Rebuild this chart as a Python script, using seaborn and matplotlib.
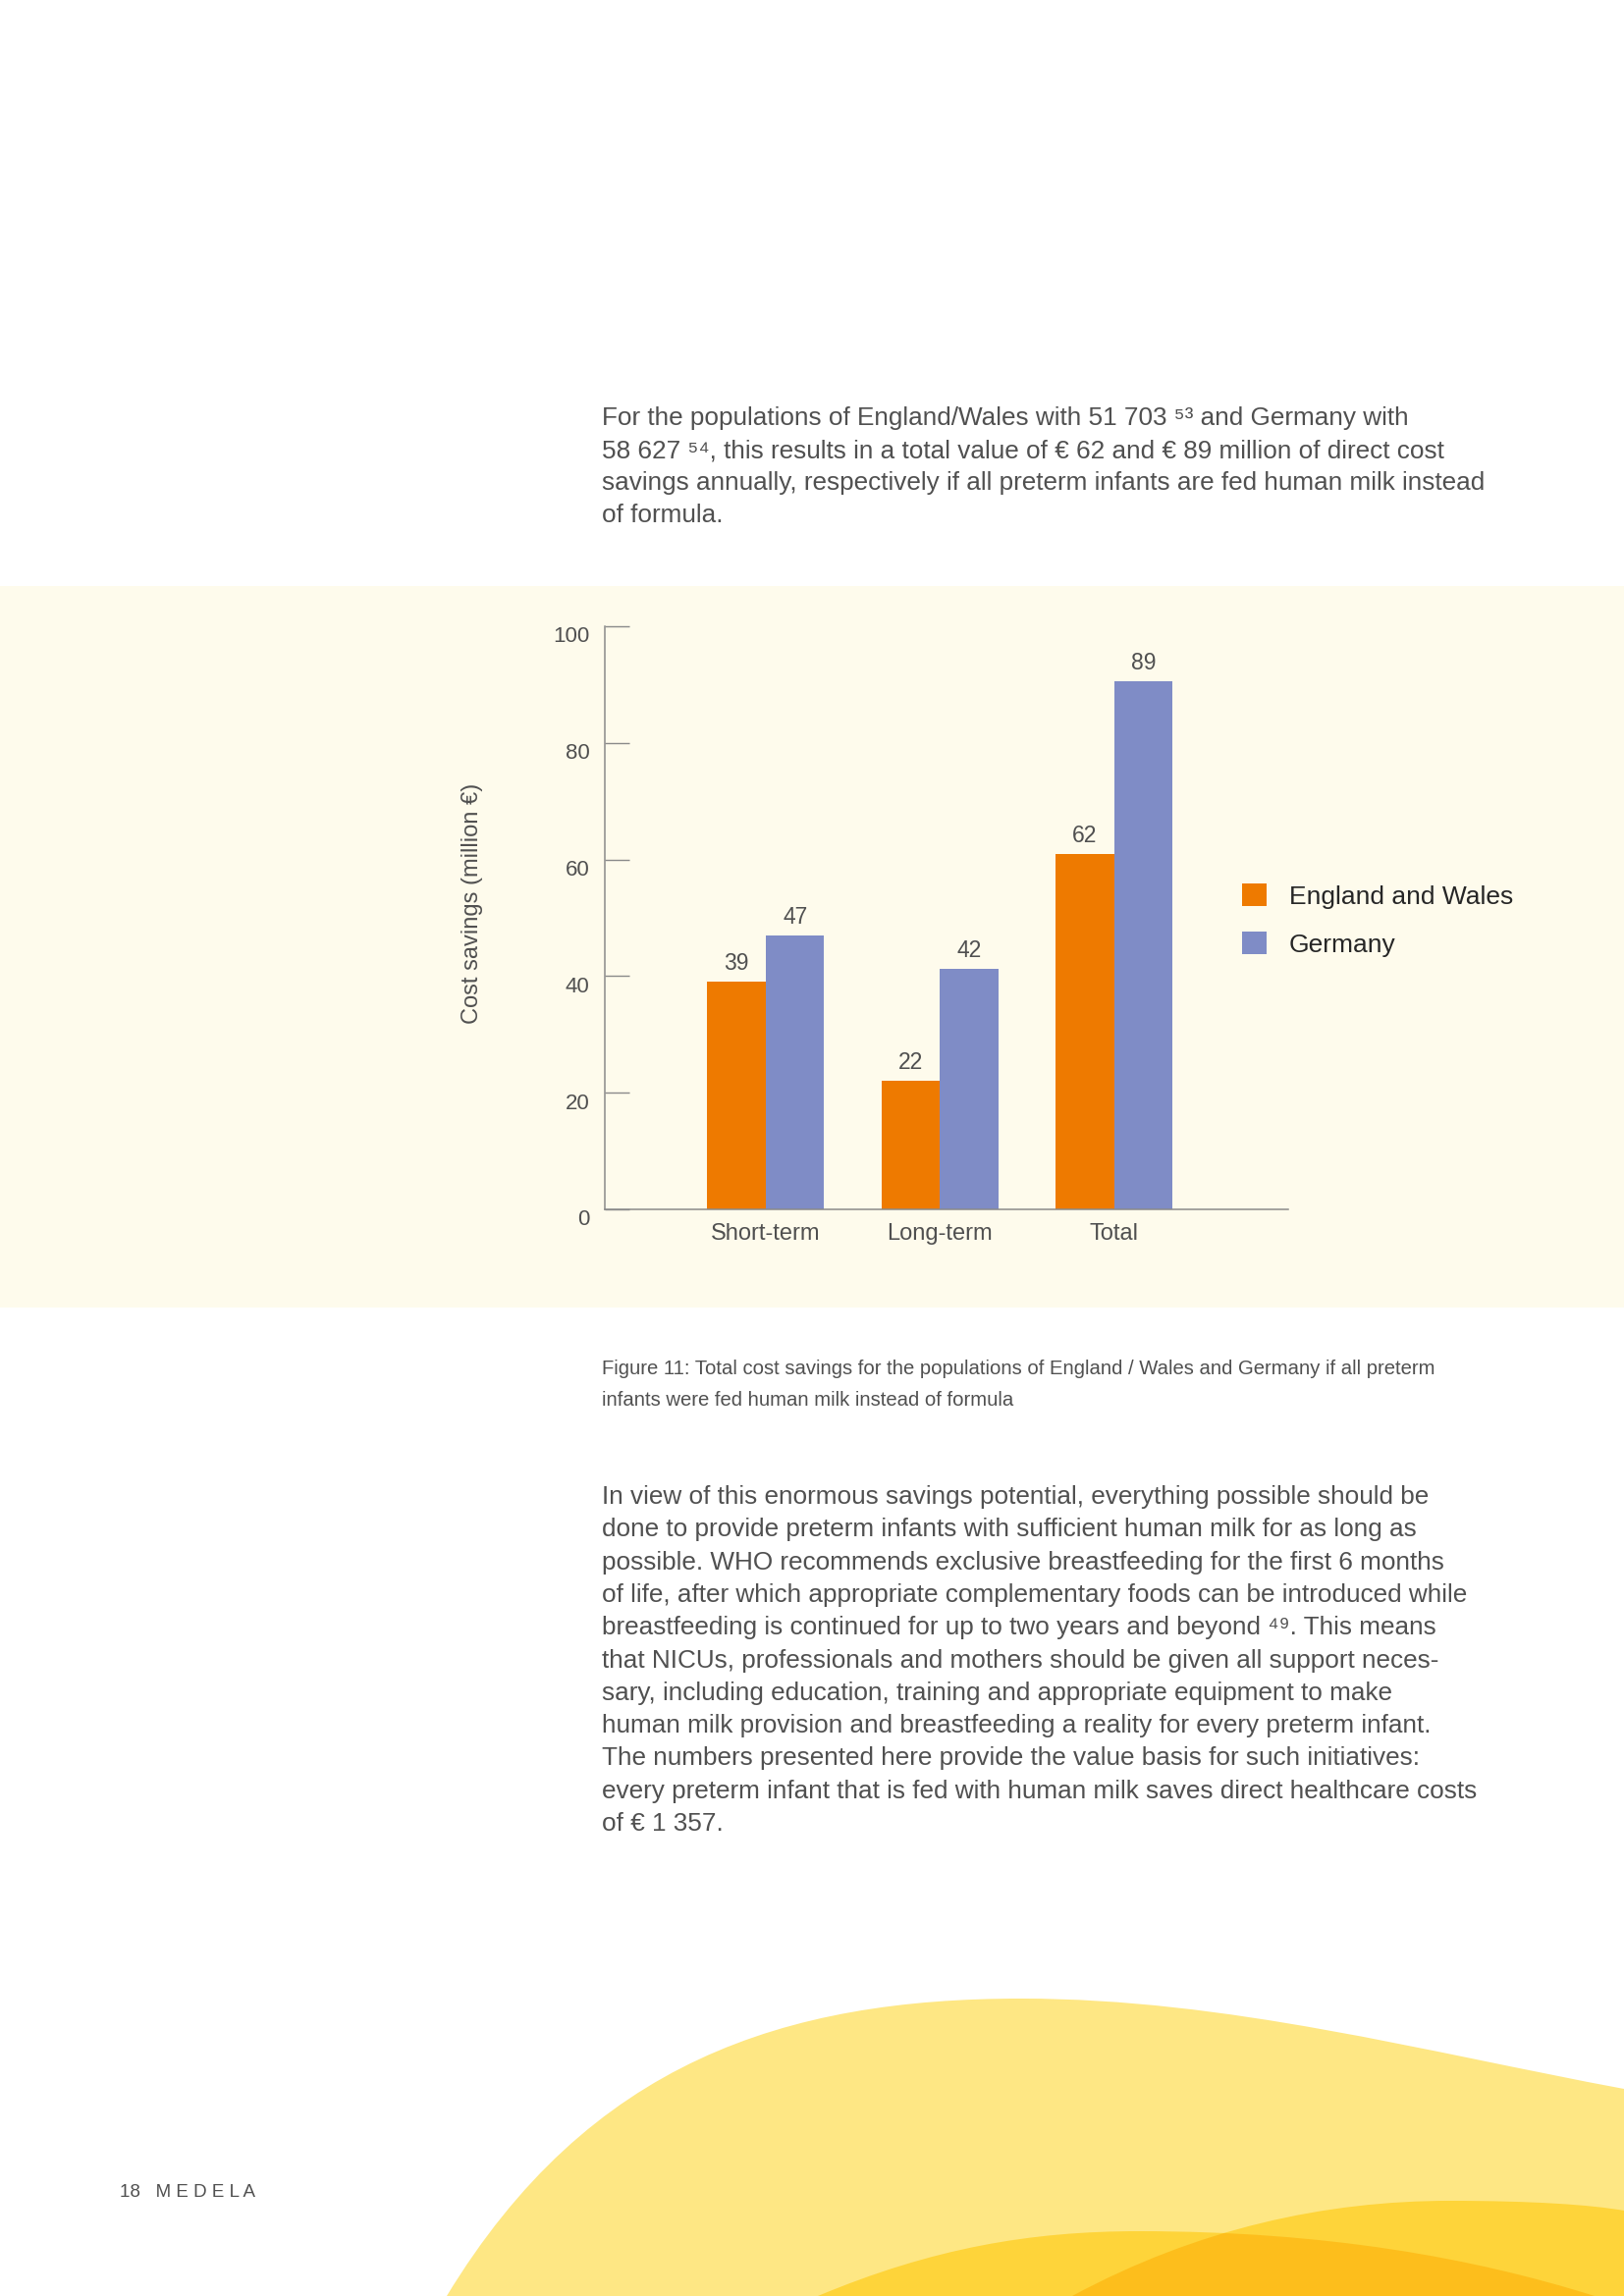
import numpy as np
import pandas as pd
import matplotlib
matplotlib.use("Agg")
import matplotlib.pyplot as plt
import matplotlib.transforms as mtransforms
from matplotlib.patches import Rectangle, PathPatch, Patch
from matplotlib.path import Path
import seaborn as sns

# data
categories = ["Short-term", "Long-term", "Total"]
countries = ["England and Wales", "Germany"]
england_wales = [39, 22, 61]
germany = [47, 41.2, 90.5]
england_labels = ["39", "22", "62"]
germany_labels = ["47", "42", "89"]
y_ticks = [0, 20, 40, 60, 80, 100]

para_top = [
    "For the populations of England/Wales with 51 703 \u2075\u00b3 and Germany with",
    "58 627 \u2075\u2074, this results in a total value of \u20ac 62 and \u20ac 89 million of direct cost",
    "savings annually, respectively if all preterm infants are fed human milk instead",
    "of formula.",
]
caption = [
    "Figure 11: Total cost savings for the populations of England / Wales and Germany if all preterm",
    "infants were fed human milk instead of formula",
]
para_bottom = [
    "In view of this enormous savings potential, everything possible should be",
    "done to provide preterm infants with sufficient human milk for as long as",
    "possible. WHO recommends exclusive breastfeeding for the first 6 months",
    "of life, after which appropriate complementary foods can be introduced while",
    "breastfeeding is continued for up to two years and beyond \u2074\u2079. This means",
    "that NICUs, professionals and mothers should be given all support neces-",
    "sary, including education, training and appropriate equipment to make",
    "human milk provision and breastfeeding a reality for every preterm infant.",
    "The numbers presented here provide the value basis for such initiatives:",
    "every preterm infant that is fed with human milk saves direct healthcare costs",
    "of \u20ac 1 357.",
]

df = pd.DataFrame({
    "category": categories * 2,
    "country": [countries[0]] * 3 + [countries[1]] * 3,
    "value": england_wales + germany,
})

sns.set_style("white")
plt.rcParams["font.family"] = ["Liberation Sans", "DejaVu Sans"]

ORANGE = "#EE7A00"
BLUE = "#7F8CC6"
BAND = "#FEFBEC"
TEXT = "#505050"

W, H = 1654, 2339
fig = plt.figure(figsize=(W / 100, H / 100), dpi=100, facecolor="white")

# page background: cream band and yellow waves (pixel coords)
bg = fig.add_axes([0, 0, 1, 1], zorder=-5)
bg.set_xlim(0, W)
bg.set_ylim(H, 0)
bg.axis("off")
bg.add_patch(Rectangle((0, 597), W, 735, facecolor=BAND, edgecolor="none"))

C, M, L = Path.CURVE4, Path.MOVETO, Path.LINETO
big = Path([(455, 2339), (600, 2100), (800, 2036), (1040, 2036),
            (1250, 2036), (1450, 2090), (1654, 2128), (1654, 2339), (455, 2339)],
           [M, C, C, C, C, C, C, L, L])
wave1 = Path([(833, 2339), (950, 2290), (1050, 2273), (1160, 2273),
              (1350, 2273), (1500, 2300), (1624, 2339), (833, 2339)],
             [M, C, C, C, C, C, C, L])
wave2 = Path([(1092, 2339), (1220, 2270), (1350, 2242), (1477, 2242),
              (1560, 2242), (1620, 2246), (1654, 2252), (1654, 2339), (1092, 2339)],
             [M, C, C, C, C, C, C, L, L])
bg.add_patch(PathPatch(big, facecolor="#FEE784", edgecolor="none"))
p1 = PathPatch(wave1, facecolor="#FED43A", edgecolor="none")
bg.add_patch(p1)
bg.add_patch(PathPatch(wave2, facecolor="#FED43A", edgecolor="none"))
overlap = PathPatch(wave2, facecolor="#FDBE1C", edgecolor="none")
bg.add_patch(overlap)
overlap.set_clip_path(p1)

# chart
ax = fig.add_axes([616 / W, 1 - 1232 / H, 696 / W, 594 / H])
ax.set_facecolor("none")
sns.barplot(data=df, x="category", y="value", hue="country",
            palette=[ORANGE, BLUE], width=0.672, saturation=1,
            edgecolor="none", linewidth=0, ax=ax, legend=False)

ax.bar_label(ax.containers[0], labels=england_labels, padding=5,
             fontsize=16.5, color=TEXT)
ax.bar_label(ax.containers[1], labels=germany_labels, padding=5,
             fontsize=16.5, color=TEXT)

ax.set_xlim(-0.924, 3.0)
ax.set_ylim(0, 100)
ax.set_yticks(y_ticks)
ax.set_xlabel("")
ax.set_ylabel("Cost savings (million \u20ac)", fontsize=17, color=TEXT)
ax.yaxis.set_label_coords(-0.178, 0.525)

for s in ["top", "right"]:
    ax.spines[s].set_visible(False)
for s in ["left", "bottom"]:
    ax.spines[s].set_color("#8a8a8a")
    ax.spines[s].set_linewidth(1.1)

ax.tick_params(axis="y", left=True, direction="in", length=18, width=1.0,
               color="#8a8a8a", labelsize=16, labelcolor=TEXT, pad=11)
ax.tick_params(axis="x", bottom=False, length=0, labelsize=17, labelcolor=TEXT, pad=10)
shift = mtransforms.ScaledTranslation(0, -6 / 72, fig.dpi_scale_trans)
for lab in ax.get_yticklabels():
    lab.set_transform(lab.get_transform() + shift)

handles = [Patch(facecolor=ORANGE, edgecolor="none"),
           Patch(facecolor=BLUE, edgecolor="none")]
ax.legend(handles, countries, loc="center left", bbox_to_anchor=(0.9325, 0.496),
          frameon=False, fontsize=19, handlelength=0.95, handleheight=0.95,
          handletextpad=0.85, labelspacing=0.9, borderpad=0, borderaxespad=0)

# page text
x0 = 613 / W
for i, line in enumerate(para_top):
    fig.text(x0, 1 - (426 + 33 * i) / H, line, fontsize=18.8, color=TEXT, va="center")
for i, line in enumerate(caption):
    fig.text(x0, 1 - (1394 + 33 * i) / H, line, fontsize=14.6, color=TEXT, va="center")
for i, line in enumerate(para_bottom):
    fig.text(x0, 1 - (1525 + 33.3 * i) / H, line, fontsize=18.8, color=TEXT, va="center")
fig.text(122 / W, 1 - 2233 / H, "18   M E D E L A", fontsize=13.5, color=TEXT, va="center")

fig.savefig("out.png", dpi=100, facecolor="white")
